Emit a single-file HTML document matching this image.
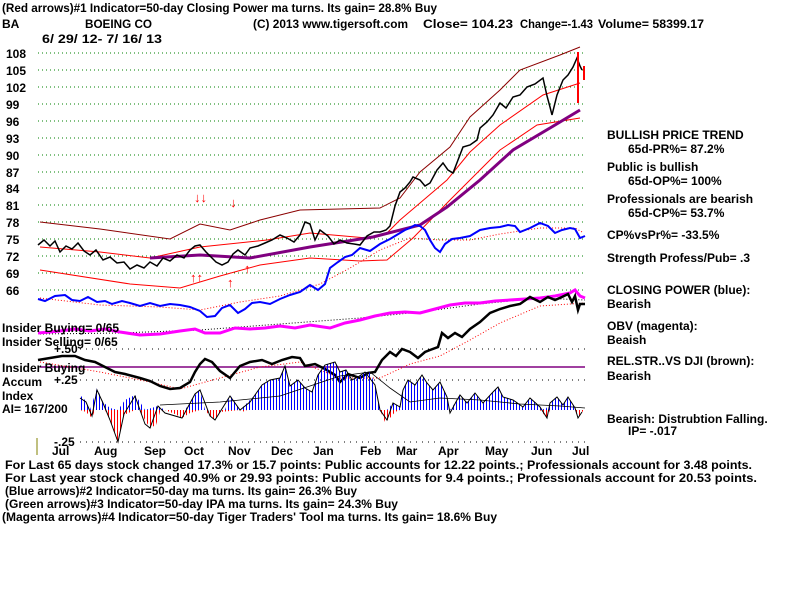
<!DOCTYPE html>
<html><head><meta charset="utf-8"><style>
html,body{margin:0;padding:0;background:#fff;}
svg{display:block;font-family:"Liberation Sans",sans-serif;font-weight:bold;font-size:12px;}
</style></head><body>
<svg width="800" height="600" viewBox="0 0 800 600" xmlns="http://www.w3.org/2000/svg">
<defs>
<pattern id="bs" width="3" height="4" patternUnits="userSpaceOnUse"><rect x="0" y="0" width="1" height="4" fill="#0000ff"/></pattern>
<pattern id="rs" width="3" height="4" patternUnits="userSpaceOnUse"><rect x="0" y="0" width="1" height="4" fill="#ff0000"/></pattern>
</defs>
<rect width="800" height="600" fill="#fff"/>
<!-- header -->
<text x="2" y="12" textLength="435" lengthAdjust="spacingAndGlyphs">(Red arrows)#1 Indicator=50-day Closing Power ma turns. Its gain= 28.8% Buy</text>
<text x="2" y="28">BA</text>
<text x="85" y="28" textLength="67" lengthAdjust="spacingAndGlyphs">BOEING CO</text>
<text x="253" y="28" textLength="155" lengthAdjust="spacingAndGlyphs">(C) 2013 www.tigersoft.com</text>
<text x="423" y="28" textLength="90" lengthAdjust="spacingAndGlyphs">Close=  104.23</text>
<text x="520" y="28" textLength="73" lengthAdjust="spacingAndGlyphs">Change=-1.43</text>
<text x="598" y="28" textLength="106" lengthAdjust="spacingAndGlyphs">Volume= 58399.17</text>
<text x="42" y="43" textLength="120" lengthAdjust="spacingAndGlyphs">6/ 29/ 12- 7/ 16/ 13</text>
<!-- grid -->
<g stroke="#008000" stroke-dasharray="1,3" stroke-width="1">
<line x1="38" y1="53" x2="585" y2="53"/><line x1="38" y1="70" x2="585" y2="70"/><line x1="38" y1="87" x2="585" y2="87"/>
<line x1="38" y1="104" x2="585" y2="104"/><line x1="38" y1="121" x2="585" y2="121"/><line x1="38" y1="138" x2="585" y2="138"/>
<line x1="38" y1="155" x2="585" y2="155"/><line x1="38" y1="172" x2="585" y2="172"/><line x1="38" y1="188" x2="585" y2="188"/>
<line x1="38" y1="205" x2="585" y2="205"/><line x1="38" y1="222" x2="585" y2="222"/><line x1="38" y1="239" x2="585" y2="239"/>
<line x1="38" y1="256" x2="585" y2="256"/><line x1="38" y1="273" x2="585" y2="273"/><line x1="38" y1="290" x2="585" y2="290"/>
</g>
<g stroke="#000" stroke-dasharray="1,5" stroke-width="1">
<line x1="80" y1="349" x2="585" y2="349"/><line x1="80" y1="380" x2="585" y2="380"/><line x1="80" y1="442" x2="585" y2="442"/>
</g>
<g font-size="12">
<text x="6" y="58">108</text><text x="6" y="75">105</text><text x="6" y="92">102</text><text x="6" y="109">99</text>
<text x="6" y="126">96</text><text x="6" y="143">93</text><text x="6" y="160">90</text><text x="6" y="177">87</text>
<text x="6" y="193">84</text><text x="6" y="210">81</text><text x="6" y="227">78</text><text x="6" y="244">75</text>
<text x="6" y="261">72</text><text x="6" y="278">69</text><text x="6" y="295">66</text>
</g>
<!-- bands -->
<polyline fill="none" stroke="#8b0000" stroke-width="1" points="40,222 100,229 170,239 200,224 230,230 260,220 300,210 340,209 380,208 400,198 420,172 450,147 470,117 500,90 520,70 560,55 580,47"/>
<polyline fill="none" stroke="#ff0000" stroke-width="1" points="40,247 100,252 150,258 200,247 267,240 310,233 367,238 387,233 400,220 420,203 447,180 470,152 500,125 543,95 580,83"/>
<polyline fill="none" stroke="#ff0000" stroke-width="1" points="40,270 130,284 180,288 220,276 260,265 310,258 360,261 387,260 413,238 450,200 480,170 500,150 537,125 580,118"/>
<polyline fill="none" stroke="#800080" stroke-width="3" points="150,258 200,255 250,258 310,247 373,237 420,225 447,207 480,180 513,150 550,128 580,110"/>
<!-- price -->
<polyline fill="none" stroke="#000" stroke-width="1.5" points="38,245 44,240 50,246 55,241 60,252 66,246 72,249 78,243 84,251 90,255 96,250 103,260 110,257 117,263 124,262 130,269 137,265 144,268 150,262 157,266 163,258 170,261 177,255 184,258 190,250 195,246 200,245 206,252 212,258 216,262 222,265 228,262 233,254 238,250 245,255 250,248 258,246 265,243 272,240 280,235 287,238 294,242 300,235 305,222 310,224 315,240 320,230 328,236 334,244 340,240 347,243 354,244 360,245 367,236 374,232 380,232 386,230 390,226 395,206 400,192 405,188 410,182 413,177 420,180 425,186 430,183 437,170 443,163 448,170 453,173 458,160 463,147 470,145 477,140 480,128 487,122 493,115 500,103 506,108 513,97 520,95 527,87 535,84 543,78 547,96 550,107 552,115 557,95 563,80 568,75 573,67 577,58 580,66 582,70"/>
<line x1="578" y1="52" x2="578" y2="103" stroke="#ff0000" stroke-width="2"/>
<line x1="584" y1="66" x2="584" y2="80" stroke="#ff0000" stroke-width="2"/>
<!-- arrows -->
<g fill="#ff0000" font-size="13">
<text x="194" y="202">↓↓</text><text x="230" y="207">↓</text>
<text x="190" y="282">↑↑</text><text x="227" y="287">↑</text><text x="244" y="273">↑</text>
</g>
<!-- closing power -->
<polyline fill="none" stroke="#ff0000" stroke-dasharray="1,2" stroke-width="1" points="40,298 100,305 160,307 200,310 240,302 280,296 320,284 350,268 380,250 410,238 440,240 470,240 500,234 540,228 575,228 582,232"/>
<polyline fill="none" stroke="#0000ff" stroke-width="2" points="38,299 45,301 55,296 65,295 72,300 80,301 88,297 97,302 105,301 112,304 122,301 130,303 140,306 150,303 160,306 170,304 180,305 190,307 200,311 207,317 215,316 222,308 230,305 238,313 245,309 252,303 260,302 270,304 280,299 290,295 300,292 310,285 318,290 325,284 330,268 338,262 345,257 352,255 360,248 370,251 380,244 390,239 395,236 400,233 405,230 410,228 415,225 420,226 425,230 430,240 435,248 440,252 445,244 452,239 460,238 470,236 480,230 490,228 500,227 508,225 515,226 520,232 530,228 540,223 548,226 555,233 562,230 570,228 575,229 580,238 585,236"/>
<!-- OBV -->
<polyline fill="none" stroke="#000" stroke-dasharray="1,2" stroke-width="1" points="40,334 120,333 200,330 280,324 360,318 420,312 480,304 540,298 585,300"/>
<polyline fill="none" stroke="#ff00ff" stroke-width="3" points="38,333 50,332 60,331 75,329 90,331 105,329 120,332 140,335 160,334 180,331 195,329 205,333 220,333 235,328 250,329 265,328 280,326 295,328 310,325 330,328 345,323 360,320 375,316 390,313 405,312 420,313 435,309 450,305 465,303 480,303 495,301 510,300 525,299 540,298 555,296 570,293 575,290 580,296 585,298"/>
<!-- RS -->
<line x1="40" y1="367" x2="585" y2="367" stroke="#800080" stroke-width="1.5"/>
<polyline fill="none" stroke="#ff0000" stroke-dasharray="1,2" stroke-width="1" points="40,362 100,372 150,382 180,389 220,378 260,367 300,362 340,378 380,378 410,364 440,356 470,340 500,323 540,306 585,303"/>
<polyline fill="none" stroke="#000" stroke-width="2.5" points="38,360 50,358 62,356 75,356 85,360 95,362 105,367 115,372 125,374 140,378 150,381 160,386 170,389 180,388 190,382 195,372 200,364 205,359 212,362 220,371 230,378 240,366 250,362 262,360 272,364 282,360 292,357 300,358 305,366 315,364 325,369 335,375 340,382 348,374 360,378 368,373 375,372 382,360 390,352 396,356 402,349 410,352 418,358 425,352 430,350 438,347 442,333 448,338 455,333 462,337 470,329 480,322 490,313 500,309 510,306 520,304 530,297 540,302 548,297 555,300 562,297 568,294 572,302 575,296 578,310 580,304 585,304"/>
<!-- AI -->
<polygon fill="url(#rs)" stroke="none" points="40,410 80,410 86,412 92,418 95,410 105,410 110,420 118,443 124,415 135,410 140,410 145,420 150,428 156,425 160,412 165,410 175,414 182,418 190,413 200,410 205,410 210,416 215,420 220,412 240,410 245,412 250,406 255,410 380,410 385,422 390,418 395,412 400,410 540,410 547,418 550,410 575,410 578,418 582,412 585,410"/>
<polygon fill="url(#bs)" stroke="none" points="80,410 80,395 85,400 90,410 97,388 103,402 110,408 118,410 125,400 135,395 140,402 145,410 158,406 165,410 185,410 195,395 200,390 205,410 225,410 230,395 235,402 240,410 250,400 255,395 262,385 270,380 280,378 285,366 290,386 298,380 305,388 312,392 318,375 325,365 335,362 340,372 346,370 352,380 358,377 365,372 370,372 375,385 380,410 387,410 393,403 400,407 403,390 408,380 415,385 422,375 427,383 433,390 440,382 447,397 450,410 457,400 460,395 467,403 475,393 483,403 493,392 498,387 503,397 513,400 523,407 530,398 540,407 545,410 550,403 557,397 563,405 568,397 575,408 575,410"/>
<polyline fill="none" stroke="#000" stroke-width="1" points="80,398 86,402 92,416 97,390 103,403 110,420 118,442 124,414 135,396 145,424 150,428 158,406 165,413 182,418 195,394 200,390 210,416 215,420 230,396 240,410 250,402 255,395 262,385 270,380 280,378 285,366 290,386 298,380 305,388 312,392 318,375 325,365 335,362 340,372 346,370 352,380 358,377 365,372 375,385 380,410 387,420 393,403 400,407 403,390 408,380 415,385 422,375 427,383 433,390 440,382 447,397 450,413 457,400 460,395 467,403 475,393 483,403 493,392 498,387 503,397 513,400 523,407 530,398 540,407 547,418 550,403 557,397 563,405 568,397 575,408 578,418 582,412"/>
<polyline fill="none" stroke="#000" stroke-width="0.8" points="160,405 220,402 280,396 340,376 370,372 390,388 410,402 440,398 480,400 520,404 560,406 585,408"/>
<line x1="37" y1="438" x2="37" y2="455" stroke="#808000" stroke-width="1"/>
<!-- left labels -->
<text x="2" y="332">Insider Buying= 0/65</text>
<text x="2" y="346">Insider Selling= 0/65</text>
<text x="54" y="353">+.50</text>
<text x="2" y="372">Insider Buying</text>
<text x="2" y="386">Accum</text>
<text x="54" y="384">+.25</text>
<text x="2" y="400">Index</text>
<text x="2" y="413">AI= 167/200</text>
<text x="54" y="446">-.25</text>
<!-- months -->
<g font-size="12">
<text x="52" y="455">Jul</text><text x="94" y="455">Aug</text><text x="144" y="455">Sep</text><text x="184" y="455">Oct</text>
<text x="228" y="455">Nov</text><text x="271" y="455">Dec</text><text x="313" y="455">Jan</text><text x="360" y="455">Feb</text>
<text x="396" y="455">Mar</text><text x="438" y="455">Apr</text><text x="485" y="455">May</text><text x="531" y="455">Jun</text><text x="572" y="455">Jul</text>
</g>
<!-- right panel -->
<text x="607" y="139">BULLISH PRICE TREND</text>
<text x="628" y="153">65d-PR%= 87.2%</text>
<text x="607" y="171">Public is bullish</text>
<text x="628" y="185">65d-OP%= 100%</text>
<text x="607" y="203">Professionals are bearish</text>
<text x="628" y="217">65d-CP%= 53.7%</text>
<text x="607" y="239">CP%vsPr%= -33.5%</text>
<text x="607" y="262">Strength Profess/Pub= .3</text>
<text x="607" y="294">CLOSING POWER (blue):</text>
<text x="607" y="308">Bearish</text>
<text x="607" y="330">OBV (magenta):</text>
<text x="607" y="344">Beaish</text>
<text x="607" y="365">REL.STR..VS DJI (brown):</text>
<text x="607" y="380">Bearish</text>
<text x="607" y="423">Bearish: Distrubtion Falling.</text>
<text x="628" y="435">IP= -.017</text>
<!-- bottom -->
<text x="5" y="469" textLength="747" lengthAdjust="spacingAndGlyphs">For Last 65 days stock changed  17.3% or  15.7 points:  Public accounts for  12.22 points.;  Professionals account for  3.48 points.</text>
<text x="5" y="482" textLength="752" lengthAdjust="spacingAndGlyphs">For Last year stock changed  40.9% or  29.93 points:  Public accounts for  9.4 points.;  Professionals account for  20.53 points.</text>
<text x="5" y="495" textLength="352" lengthAdjust="spacingAndGlyphs">(Blue arrows)#2 Indicator=50-day ma turns. Its gain= 26.3% Buy</text>
<text x="5" y="508" textLength="393" lengthAdjust="spacingAndGlyphs">(Green arrows)#3 Indicator=50-day IPA ma turns. Its gain= 24.3% Buy</text>
<text x="2" y="521" textLength="495" lengthAdjust="spacingAndGlyphs">(Magenta arrows)#4 Indicator=50-day Tiger Traders' Tool ma turns. Its gain= 18.6% Buy</text>
</svg>
</body></html>
